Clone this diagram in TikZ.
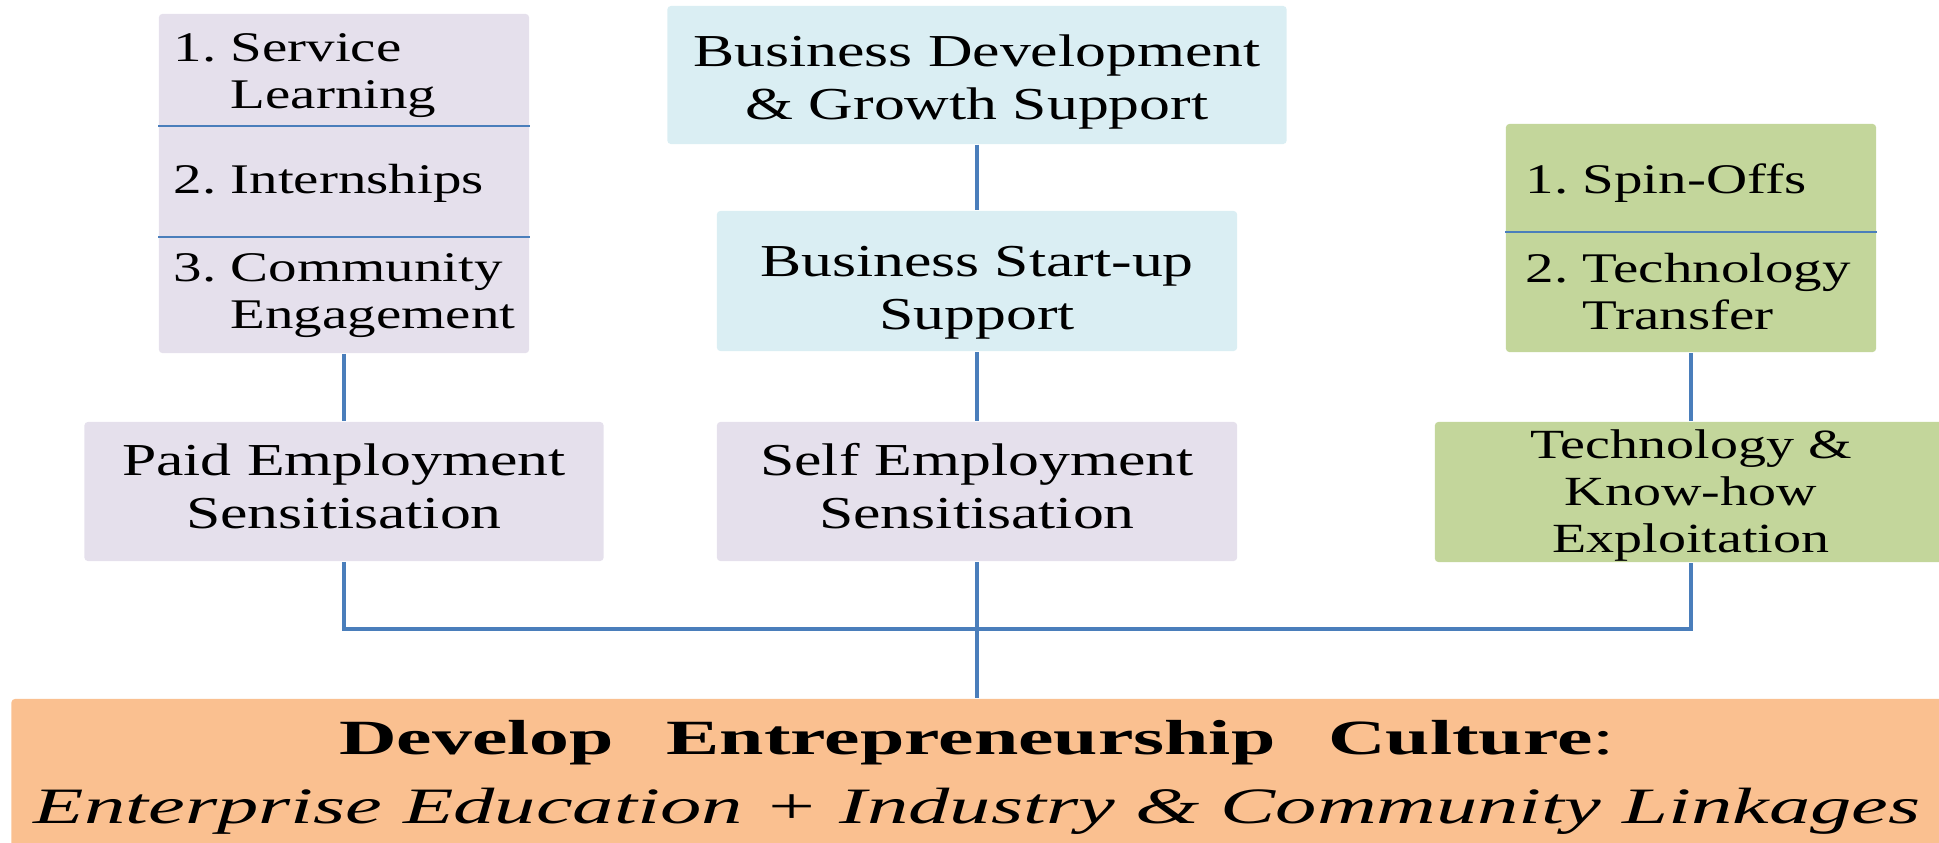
\documentclass[tikz,border=0pt]{standalone}
\usepackage{fontspec}
\usepackage{tikz}
\newfontfamily\boxfont[FakeStretch=1.35]{Liberation Serif}
\newfontfamily\basefont[FakeStretch=1.62]{Liberation Serif}
\newcommand{\drop}[1]{\rule{0pt}{#1}}
\newcommand{\lift}[1]{\rule[-#1]{0pt}{#1}}
\definecolor{lav}{HTML}{E5E0EC}
\definecolor{sky}{HTML}{DAEEF3}
\definecolor{leaf}{HTML}{C3D69B}
\definecolor{peach}{HTML}{FAC090}
\definecolor{wire}{HTML}{4A7EBB}
\tikzset{
    every node/.style={rectangle, inner sep=0mm, rounded corners=1pt, align=center,
      font=\boxfont\fontsize{13}{15}\selectfont}
}
\tikzset{item/.style={anchor=west, align=left, font=\boxfont\fontsize{12}{13.4}\selectfont}}
\tikzset{link/.style={draw=wire, line width=0.9pt}}
\tikzset{rule/.style={draw=wire, line width=0.6pt}}

\begin{document}
\begin{tikzpicture}[x=0.01cm, y=-0.01cm]
  \useasboundingbox (0,0) rectangle (1939,842);

  \node (lst1) [fill=lav, minimum width=3.70cm, minimum height=3.39cm] at (344,183.5) {};
  \node (bdev) [fill=sky, minimum width=6.19cm, minimum height=1.38cm] at (977,75) {\drop{13pt}Business Development\\\& Growth Support};
  \node (bstart) [fill=sky, minimum width=5.20cm, minimum height=1.40cm] at (977,281) {\drop{15.3pt}Business Start-up\\Support};
  \node (lst2) [fill=leaf, minimum width=3.70cm, minimum height=2.28cm] at (1691,238) {};

  \node (paid) [fill=lav, minimum width=5.19cm, minimum height=1.39cm] at (344,491.5) {Paid Employment\\Sensitisation\lift{3.1pt}};
  \node (self) [fill=lav, minimum width=5.20cm, minimum height=1.39cm] at (977,491.5) {Self Employment\\Sensitisation\lift{3.1pt}};
  \node (tech) [fill=leaf, minimum width=5.12cm, minimum height=1.40cm,
    font=\boxfont\fontsize{11.8}{13.4}\selectfont] at (1691,492) {\drop{10.2pt}Technology \&\\Know-how\\Exploitation};

  \node (base) [fill=peach, minimum width=19.30cm, minimum height=1.56cm,
    font=\basefont\fontsize{14}{19.6}\selectfont] at (977,777)
    {{\bfseries Develop\hspace{15pt}Entrepreneurship\hspace{15pt}Culture}:\\
     {\fontsize{14.5}{19.6}\selectfont\itshape Enterprise Education + Industry \& Community Linkages}};

  \node (s1) [item] at (173,76) {1.~Service\\\phantom{1.~}Learning};
  \node (s2) [item] at (173,183.5) {2.~Internships};
  \node (s3) [item] at (173,296) {3.~Community\\\phantom{3.~}Engagement};
  \node (t1) [item] at (1525,183) {1.~Spin-Offs};
  \node (t2) [item] at (1525,292) {2.~Technology\\\phantom{2.~}Transfer};

  \draw [rule] (lst1.west |- 0,126) -- (lst1.east |- 0,126);
  \draw [rule] (lst1.west |- 0,237) -- (lst1.east |- 0,237);
  \draw [rule] (lst2.west |- 0,232) -- (lst2.east |- 0,232);

  \coordinate (bus) at (977,629);
  \draw [link] (lst1) -- (paid);
  \draw [link] (bdev) -- (bstart);
  \draw [link] (bstart) -- (self);
  \draw [link] (lst2) -- (tech);
  \draw [link] (paid) |- (bus) -| (tech);
  \draw [link] (self) -- (base);
\end{tikzpicture}
\end{document}
